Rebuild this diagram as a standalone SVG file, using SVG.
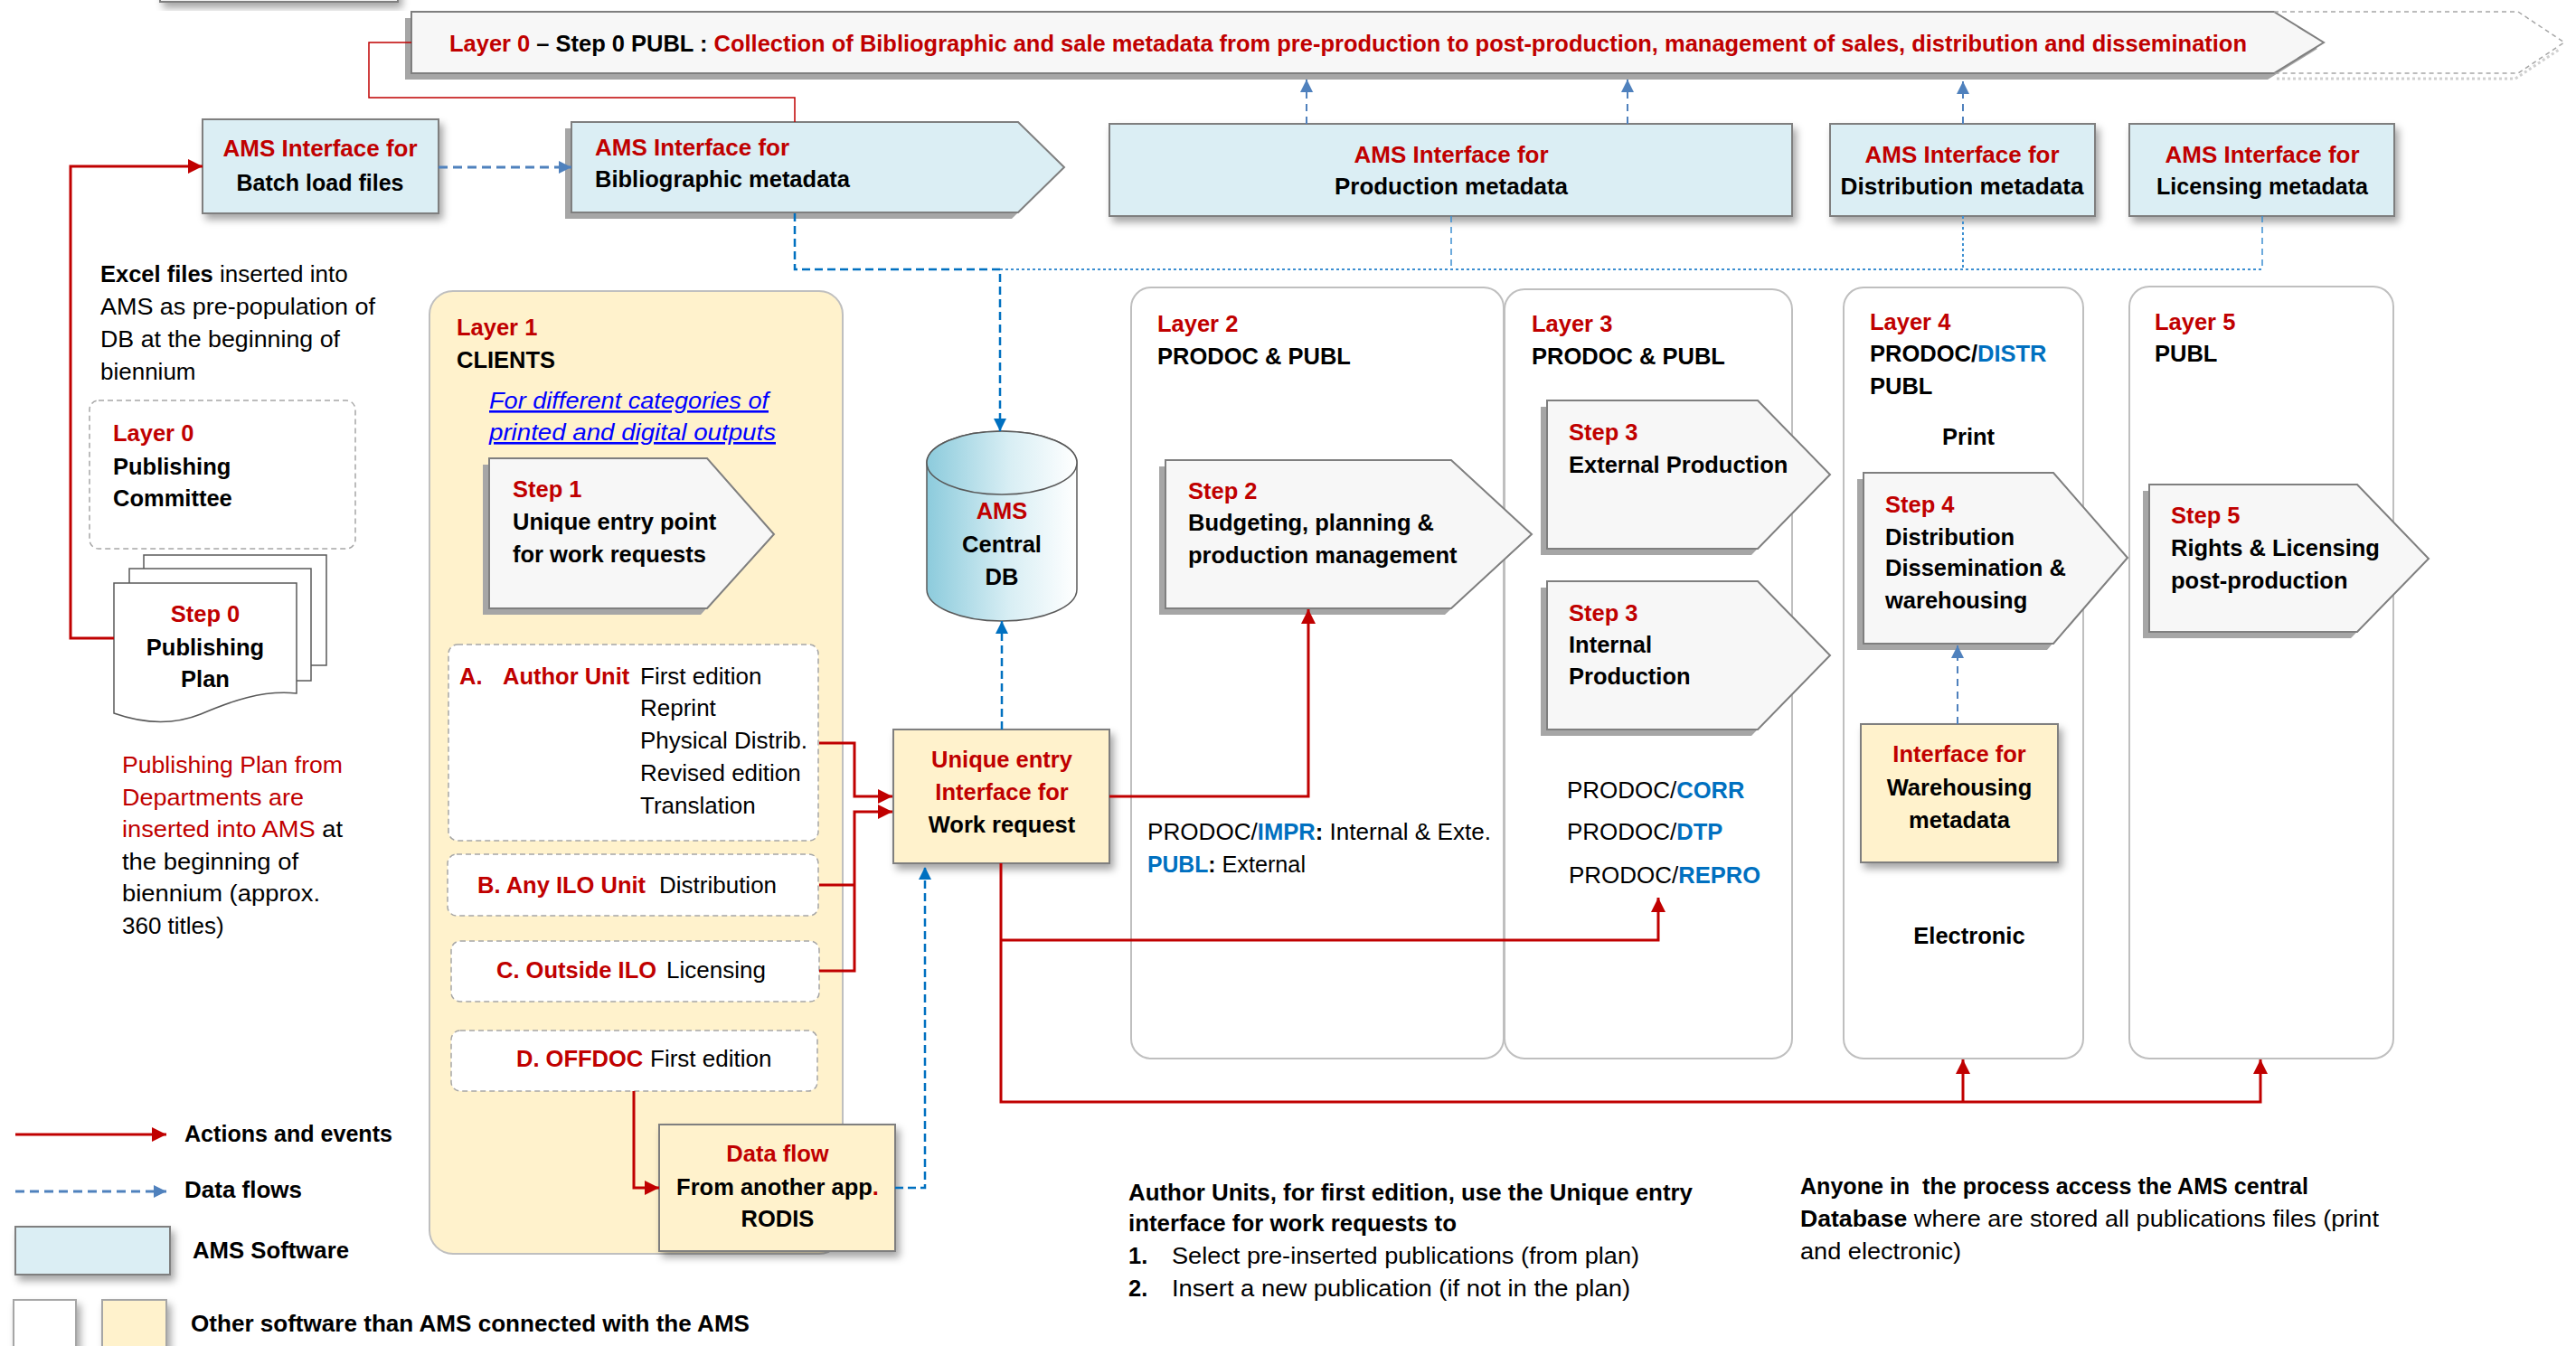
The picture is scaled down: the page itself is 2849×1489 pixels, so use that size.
<svg xmlns="http://www.w3.org/2000/svg" width="2849" height="1489" viewBox="0 0 2849 1489">
<style>
text{font-family:"Liberation Sans",Arial,sans-serif;font-size:26px;fill:#000}
.b{font-weight:bold;font-size:25.5px}
.r{fill:#c00000}
.bl{fill:#0070c0}
.m{text-anchor:middle}
.lk{fill:#0000ff;font-style:italic;text-decoration:underline}
.ams{fill:#dbeef4;stroke:#7f7f7f;stroke-width:2}
.oth{fill:#fff2cc;stroke:#7f7f7f;stroke-width:2}
.step{fill:#f7f7f7;stroke:#7f7f7f;stroke-width:2}
.hs{fill:#a6a6a6}
.panel{fill:#fff;stroke:#bfbfbf;stroke-width:2}
.dash{fill:#fff;stroke:#a6a6a6;stroke-width:1.5;stroke-dasharray:6,4}
.red{fill:none;stroke:#c00000;stroke-width:3}
.bd{fill:none;stroke:#0070c0;stroke-width:2.5;stroke-dasharray:9,5}
.bd2{fill:none;stroke:#4f81bd;stroke-width:3;stroke-dasharray:10,6}
.bt{fill:none;stroke:#4f81bd;stroke-width:2;stroke-dasharray:8,6}
.dot{fill:none;stroke:#3d8fd1;stroke-width:2;stroke-dasharray:3,3}
.thin{fill:none;stroke:#3d8fd1;stroke-width:1.5;stroke-dasharray:7,5}
</style>
<defs>
<filter id="sh" x="-20%" y="-20%" width="140%" height="150%"><feDropShadow dx="4" dy="6" stdDeviation="4" flood-color="#000" flood-opacity="0.35"/></filter>
<linearGradient id="dbg" x1="0" y1="0" x2="1" y2="0"><stop offset="0" stop-color="#8ccbdc"/><stop offset="0.55" stop-color="#d8eef4"/><stop offset="1" stop-color="#ffffff"/></linearGradient>
<marker id="ar" markerUnits="userSpaceOnUse" markerWidth="18" markerHeight="18" refX="16" refY="8" orient="auto"><path d="M0,0 L16,8 L0,16 Z" fill="#c00000"/></marker>
<marker id="ab" markerUnits="userSpaceOnUse" markerWidth="16" markerHeight="16" refX="14" refY="7" orient="auto"><path d="M0,0 L14,7 L0,14 Z" fill="#0070c0"/></marker>
<marker id="ab2" markerUnits="userSpaceOnUse" markerWidth="16" markerHeight="16" refX="14" refY="7" orient="auto"><path d="M0,0 L14,7 L0,14 Z" fill="#4f81bd"/></marker>
</defs>
<rect width="2849" height="1489" fill="#fff"/>

<g id="stub"><rect x="177" y="-30" width="263" height="32" fill="#f2f2f2" stroke="#7f7f7f" stroke-width="2" filter="url(#sh)"/></g>

<g id="banner">
<polygon class="hs" points="448,20 2508,20 2563,54 2508,88 448,88"/>
<polygon class="step" points="455,13 2515,13 2570,47 2515,81 455,81"/>
<polyline points="2515,13 2785,13 2836,47 2785,81 2515,81" fill="none" stroke="#a6a6a6" stroke-width="1.5" stroke-dasharray="5,4"/>
<polyline points="2518,87 2782,87 2830,55" fill="none" stroke="#d0d0d0" stroke-width="3" stroke-dasharray="3,3"/>
<text x="497" y="57" class="b" textLength="1988" lengthAdjust="spacingAndGlyphs"><tspan class="r">Layer 0</tspan> – Step 0 PUBL : <tspan class="r">Collection of Bibliographic and sale metadata from pre-production to post-production, management of sales, distribution and dissemination</tspan></text>
</g>

<g id="layer1-panel"><rect x="475" y="322" width="457" height="1065" rx="26" fill="#fff2cc" stroke="#bfbfbf" stroke-width="2"/>
<text x="505" y="371" class="b r">Layer 1</text>
<text x="505" y="407" class="b">CLIENTS</text>
<text x="541" y="452" class="lk" textLength="309" lengthAdjust="spacingAndGlyphs">For different categories of</text>
<text x="541" y="487" class="lk" textLength="317" lengthAdjust="spacingAndGlyphs">printed and digital outputs</text>
</g>

<g id="layer2"><rect class="panel" x="1251" y="318" width="412" height="853" rx="22"/>
<text x="1280" y="367" class="b r">Layer 2</text>
<text x="1280" y="403" class="b">PRODOC &amp; PUBL</text>
<text x="1269" y="929" textLength="380" lengthAdjust="spacingAndGlyphs">PRODOC/<tspan class="b bl">IMPR</tspan><tspan class="b">:</tspan> Internal &amp; Exte.</text>
<text x="1269" y="965" textLength="175" lengthAdjust="spacingAndGlyphs"><tspan class="b bl">PUBL</tspan><tspan class="b">:</tspan> External</text>
</g>
<g id="layer3"><rect class="panel" x="1664" y="320" width="318" height="851" rx="22"/>
<text x="1694" y="367" class="b r">Layer 3</text>
<text x="1694" y="403" class="b">PRODOC &amp; PUBL</text>
<text x="1733" y="883">PRODOC/<tspan class="b bl">CORR</tspan></text>
<text x="1733" y="929">PRODOC/<tspan class="b bl">DTP</tspan></text>
<text x="1735" y="977">PRODOC/<tspan class="b bl">REPRO</tspan></text>
</g>
<g id="layer4"><rect class="panel" x="2039" y="318" width="265" height="853" rx="22"/>
<text x="2068" y="365" class="b r">Layer 4</text>
<text x="2068" y="400" class="b">PRODOC/<tspan class="bl">DISTR</tspan></text>
<text x="2068" y="436" class="b">PUBL</text>
<text x="2177" y="492" class="b m">Print</text>
<text x="2178" y="1044" class="b m">Electronic</text>
</g>
<g id="layer5"><rect class="panel" x="2355" y="317" width="292" height="854" rx="22"/>
<text x="2383" y="365" class="b r">Layer 5</text>
<text x="2383" y="400" class="b">PUBL</text>
</g>

<g id="batch"><rect class="ams" x="224" y="132" width="261" height="104" filter="url(#sh)"/>
<text x="354" y="173" class="b r m" textLength="215" lengthAdjust="spacingAndGlyphs">AMS Interface for</text>
<text x="354" y="211" class="b m" textLength="185" lengthAdjust="spacingAndGlyphs">Batch load files</text></g>

<g id="biblio"><polygon class="hs" points="625,142 1119,142 1170,192 1119,242 625,242"/>
<polygon class="ams" points="632,135 1126,135 1177,185 1126,235 632,235"/>
<text x="658" y="172" class="b r" textLength="215" lengthAdjust="spacingAndGlyphs">AMS Interface for</text>
<text x="658" y="207" class="b" textLength="282" lengthAdjust="spacingAndGlyphs">Bibliographic metadata</text></g>

<g id="production"><rect class="ams" x="1227" y="137" width="755" height="102" filter="url(#sh)"/>
<text x="1605" y="180" class="b r m" textLength="215" lengthAdjust="spacingAndGlyphs">AMS Interface for</text>
<text x="1605" y="215" class="b m" textLength="258" lengthAdjust="spacingAndGlyphs">Production metadata</text></g>

<g id="distribution"><rect class="ams" x="2024" y="137" width="293" height="102" filter="url(#sh)"/>
<text x="2170" y="180" class="b r m" textLength="215" lengthAdjust="spacingAndGlyphs">AMS Interface for</text>
<text x="2170" y="215" class="b m" textLength="269" lengthAdjust="spacingAndGlyphs">Distribution metadata</text></g>

<g id="licensing"><rect class="ams" x="2355" y="137" width="293" height="102" filter="url(#sh)"/>
<text x="2502" y="180" class="b r m" textLength="215" lengthAdjust="spacingAndGlyphs">AMS Interface for</text>
<text x="2502" y="215" class="b m" textLength="234" lengthAdjust="spacingAndGlyphs">Licensing metadata</text></g>

<g id="excel-note">
<text x="111" y="312"><tspan class="b">Excel files</tspan> inserted into</text>
<text x="111" y="348" textLength="304" lengthAdjust="spacingAndGlyphs">AMS as pre-population of</text>
<text x="111" y="384" textLength="265" lengthAdjust="spacingAndGlyphs">DB at the beginning of</text>
<text x="111" y="420">biennium</text>
</g>

<g id="committee"><rect class="dash" x="99" y="443" width="294" height="164" rx="10"/>
<text x="125" y="488" class="b r">Layer 0</text>
<text x="125" y="525" class="b">Publishing</text>
<text x="125" y="560" class="b">Committee</text></g>

<g id="step0">
<rect x="159" y="614" width="202" height="122" fill="#fff" stroke="#595959" stroke-width="1.5"/>
<rect x="143" y="629" width="201" height="124" fill="#fff" stroke="#595959" stroke-width="1.5"/>
<path d="M126,645 H328 V767 C290,763 255,776 222,790 C192,802 160,801 126,789 Z" fill="#fff" stroke="#595959" stroke-width="1.5"/>
<text x="227" y="688" class="b r m">Step 0</text>
<text x="227" y="725" class="b m">Publishing</text>
<text x="227" y="760" class="b m">Plan</text></g>

<g id="plan-note">
<text x="135" y="855" class="r" textLength="244" lengthAdjust="spacingAndGlyphs">Publishing Plan from</text>
<text x="135" y="891" class="r" textLength="201" lengthAdjust="spacingAndGlyphs">Departments are</text>
<text x="135" y="926" textLength="244" lengthAdjust="spacingAndGlyphs"><tspan class="r">inserted into AMS</tspan> at</text>
<text x="135" y="962" textLength="195" lengthAdjust="spacingAndGlyphs">the beginning of</text>
<text x="135" y="997" textLength="219" lengthAdjust="spacingAndGlyphs">biennium (approx.</text>
<text x="135" y="1033">360 titles)</text></g>

<g id="step1"><polygon class="hs" points="534,514 775,514 849,598 775,680 534,680"/>
<polygon class="step" points="541,507 782,507 856,591 782,673 541,673"/>
<text x="567" y="550" class="b r">Step 1</text>
<text x="567" y="586" class="b">Unique entry point</text>
<text x="567" y="622" class="b">for work requests</text></g>

<g id="clientA"><rect class="dash" x="496" y="713" width="409" height="217" rx="10"/>
<text x="508" y="757" class="b r">A.</text>
<text x="556" y="757" class="b r">Author Unit</text>
<text x="708" y="757">First edition</text>
<text x="708" y="792">Reprint</text>
<text x="708" y="828">Physical Distrib.</text>
<text x="708" y="864">Revised edition</text>
<text x="708" y="900">Translation</text></g>
<g id="clientB"><rect class="dash" x="495" y="945" width="410" height="68" rx="10"/>
<text x="528" y="988"><tspan class="b r">B. Any ILO Unit</tspan></text><text x="729" y="988">Distribution</text></g>
<g id="clientC"><rect class="dash" x="499" y="1041" width="407" height="67" rx="10"/>
<text x="549" y="1082" class="b r">C. Outside ILO</text><text x="737" y="1082">Licensing</text></g>
<g id="clientD"><rect class="dash" x="499" y="1140" width="405" height="67" rx="10"/>
<text x="571" y="1180" class="b r">D. OFFDOC</text><text x="719" y="1180">First edition</text></g>

<g id="rodis"><rect class="oth" x="729" y="1244" width="261" height="140" filter="url(#sh)"/>
<text x="860" y="1285" class="b r m">Data flow</text>
<text x="860" y="1322" class="b m">From another app<tspan class="r">.</tspan></text>
<text x="860" y="1357" class="b m">RODIS</text></g>

<g id="unique"><rect class="oth" x="988" y="807" width="239" height="148" filter="url(#sh)"/>
<text x="1108" y="849" class="b r m">Unique entry</text>
<text x="1108" y="885" class="b r m">Interface for</text>
<text x="1108" y="921" class="b m">Work request</text></g>

<g id="db">
<path d="M1025,512 A83,35 0 0 1 1191,512 V652 A83,35 0 0 1 1025,652 Z" fill="url(#dbg)" stroke="#595959" stroke-width="1.5"/>
<ellipse cx="1108" cy="512" rx="83" ry="35" fill="url(#dbg)" stroke="#595959" stroke-width="1.5"/>
<text x="1108" y="574" class="b r m">AMS</text>
<text x="1108" y="611" class="b m">Central</text>
<text x="1108" y="647" class="b m">DB</text></g>

<g id="step2"><polygon class="hs" points="1282,516 1598,516 1687,598 1598,680 1282,680"/>
<polygon class="step" points="1289,509 1605,509 1694,591 1605,673 1289,673"/>
<text x="1314" y="552" class="b r">Step 2</text>
<text x="1314" y="587" class="b">Budgeting, planning &amp;</text>
<text x="1314" y="623" class="b">production management</text></g>

<g id="step3ext"><polygon class="hs" points="1704,450 1937,450 2017,532 1937,614 1704,614"/>
<polygon class="step" points="1711,443 1944,443 2024,525 1944,607 1711,607"/>
<text x="1735" y="487" class="b r">Step 3</text>
<text x="1735" y="523" class="b">External Production</text></g>

<g id="step3int"><polygon class="hs" points="1704,650 1937,650 2017,732 1937,814 1704,814"/>
<polygon class="step" points="1711,643 1944,643 2024,725 1944,807 1711,807"/>
<text x="1735" y="687" class="b r">Step 3</text>
<text x="1735" y="722" class="b">Internal</text>
<text x="1735" y="757" class="b">Production</text></g>

<g id="step4"><polygon class="hs" points="2054,530 2264,530 2346,624 2264,719 2054,719"/>
<polygon class="step" points="2061,523 2271,523 2353,617 2271,712 2061,712"/>
<text x="2085" y="567" class="b r">Step 4</text>
<text x="2085" y="603" class="b">Distribution</text>
<text x="2085" y="637" class="b">Dissemination &amp;</text>
<text x="2085" y="673" class="b">warehousing</text></g>

<g id="step5"><polygon class="hs" points="2370,543 2600,543 2679,625 2600,706 2370,706"/>
<polygon class="step" points="2377,536 2607,536 2686,618 2607,699 2377,699"/>
<text x="2401" y="579" class="b r">Step 5</text>
<text x="2401" y="615" class="b">Rights &amp; Licensing</text>
<text x="2401" y="651" class="b">post-production</text></g>

<g id="warehousing"><rect class="oth" x="2058" y="801" width="218" height="153" filter="url(#sh)"/>
<text x="2167" y="843" class="b r m">Interface for</text>
<text x="2167" y="880" class="b m">Warehousing</text>
<text x="2167" y="916" class="b m">metadata</text></g>

<g id="connectors">
<polyline points="455,47 408,47 408,108 879,108 879,135" fill="none" stroke="#c00000" stroke-width="1.5"/>
<polyline class="red" points="126,706 78,706 78,184 224,184" marker-end="url(#ar)"/>
<line class="bd2" x1="485" y1="185" x2="632" y2="185" marker-end="url(#ab2)"/>
<path class="bd" d="M879,236 V298 H1106 V477" marker-end="url(#ab)"/>
<path class="dot" d="M1106,298 H2502"/>
<path class="thin" d="M1605,239 V298 M2502,239 V298"/>
<path class="dot" d="M2171,239 V298"/>
<line class="bt" x1="1445" y1="137" x2="1445" y2="88" marker-end="url(#ab2)"/>
<line class="bt" x1="1800" y1="137" x2="1800" y2="88" marker-end="url(#ab2)"/>
<line class="bt" x1="2171" y1="137" x2="2171" y2="90" marker-end="url(#ab2)"/>
<line class="bd" x1="1108" y1="807" x2="1108" y2="687" marker-end="url(#ab)"/>
<path class="red" d="M906,822 H945 V881 H987" marker-end="url(#ar)"/>
<path class="red" d="M906,1074 H945 V898 H987" marker-end="url(#ar)"/>
<path class="red" d="M906,979 H945"/>
<path class="red" d="M701,1207 V1314 H729" marker-end="url(#ar)"/>
<path class="bd" d="M990,1314 H1023 V959" marker-end="url(#ab)"/>
<path class="red" d="M1227,881 H1447 V674" marker-end="url(#ar)"/>
<path class="red" d="M1107,955 V1219 H2500 V1172" marker-end="url(#ar)"/>
<path class="red" d="M2171,1219 V1172" marker-end="url(#ar)"/>
<path class="red" d="M1107,1040 H1834 V993" marker-end="url(#ar)"/>
<line class="bt" x1="2165" y1="801" x2="2165" y2="714" stroke-width="2.5" marker-end="url(#ab2)"/>
</g>

<g id="note-author">
<text x="1248" y="1328" class="b" textLength="624" lengthAdjust="spacingAndGlyphs">Author Units, for first edition, use the Unique entry</text>
<text x="1248" y="1362" class="b" textLength="363" lengthAdjust="spacingAndGlyphs">interface for work requests to</text>
<text x="1248" y="1398" class="b">1.</text>
<text x="1296" y="1398" textLength="517" lengthAdjust="spacingAndGlyphs">Select pre-inserted publications (from plan)</text>
<text x="1248" y="1434" class="b">2.</text>
<text x="1296" y="1434" textLength="507" lengthAdjust="spacingAndGlyphs">Insert a new publication (if not in the plan)</text>
</g>
<g id="note-db">
<text x="1991" y="1321" class="b" textLength="562" lengthAdjust="spacingAndGlyphs" xml:space="preserve">Anyone in  the process access the AMS central</text>
<text x="1991" y="1357" textLength="640" lengthAdjust="spacingAndGlyphs"><tspan class="b">Database</tspan> where are stored all publications files (print</text>
<text x="1991" y="1393" textLength="178" lengthAdjust="spacingAndGlyphs">and electronic)</text>
</g>

<g id="legend">
<line class="red" x1="17" y1="1255" x2="184" y2="1255" marker-end="url(#ar)"/>
<text x="204" y="1263" class="b" textLength="230" lengthAdjust="spacingAndGlyphs">Actions and events</text>
<line class="bd2" x1="17" y1="1318" x2="184" y2="1318" marker-end="url(#ab2)"/>
<text x="204" y="1325" class="b" textLength="130" lengthAdjust="spacingAndGlyphs">Data flows</text>
<rect class="ams" x="17" y="1357" width="171" height="53" filter="url(#sh)"/>
<text x="213" y="1392" class="b" textLength="173" lengthAdjust="spacingAndGlyphs">AMS Software</text>
<rect x="15" y="1438" width="69" height="70" fill="#fff" stroke="#a6a6a6" stroke-width="2" filter="url(#sh)"/>
<rect x="113" y="1438" width="71" height="70" fill="#fff2cc" stroke="#a6a6a6" stroke-width="2" filter="url(#sh)"/>
<text x="211" y="1473" class="b" textLength="618" lengthAdjust="spacingAndGlyphs">Other software than AMS connected with the AMS</text>
</g>
</svg>
